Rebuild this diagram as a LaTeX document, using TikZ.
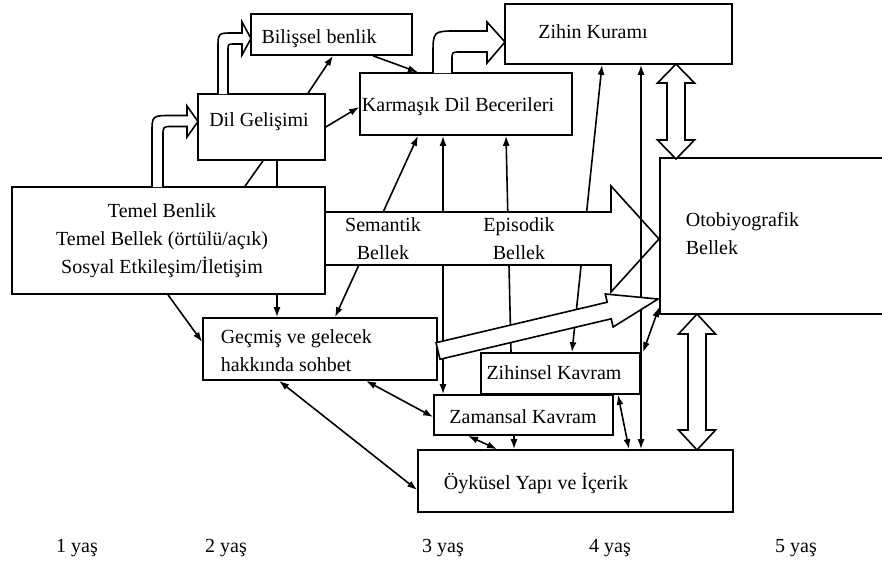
\documentclass[tikz,border=0pt]{standalone}
\usepackage{fontspec}
\setmainfont{Liberation Serif}
\usetikzlibrary{arrows.meta}

\begin{document}
\begin{tikzpicture}[x=1pt, y=-1pt, line width=1.6pt,
    box/.style={draw, rectangle, inner sep=0pt},
    lbl/.style={font=\fontsize{20}{28}\selectfont, inner sep=0pt},
    conn/.style={-{Latex[length=10pt,width=7pt]}},
    dconn/.style={{Latex[length=10pt,width=7pt]}-{Latex[length=10pt,width=7pt]}},
    hollow/.style={draw, fill=white, line join=miter}]
    \useasboundingbox (0,0) rectangle (882,562);

    % boxes
    \node[box, minimum width=161pt, minimum height=41pt] (bil) at (331.5,34.5) {};
    \node[box, minimum width=127pt, minimum height=66pt] (dil) at (261.5,127) {};
    \node[box, minimum width=212pt, minimum height=62pt] (kar) at (466,104) {};
    \node[box, minimum width=227pt, minimum height=60pt] (zih) at (618.5,34) {};
    \node[box, minimum width=240pt, minimum height=156pt] (oto) at (780,236) {};
    \node[box, minimum width=313pt, minimum height=107pt] (tem) at (168.5,240.5) {};
    \node[box, minimum width=234pt, minimum height=62pt] (gec) at (320,349) {};
    \node[box, minimum width=159pt, minimum height=41pt] (zsl) at (560.5,373.5) {};
    \node[box, minimum width=179pt, minimum height=40pt] (zam) at (523.5,415) {};
    \node[box, minimum width=315pt, minimum height=62pt] (oyk) at (575.5,481) {};

    % thin connectors
    \draw[conn] (308,0 |- dil.north) -- (333,0 |- bil.south);
    \draw[conn] (373,0 |- bil.south) -- (418,0 |- kar.north);
    \draw[conn] (dil.east |- 0,127) -- (kar.west |- 0,107);
    \draw (245,0 |- tem.north) -- (263,0 |- dil.south);
    \draw (277,0 |- tem.north) -- (277,0 |- dil.south);
    \draw[conn] (168,0 |- tem.south) -- (gec.west |- 0,342);
    \draw[conn] (277,0 |- tem.south) -- (277,0 |- gec.north);
    \draw[dconn] (335,0 |- gec.north) -- (418,0 |- kar.south);
    \draw[dconn] (443,0 |- zam.north) -- (443,0 |- kar.south);
    \draw[conn] (511,0 |- zsl.north) -- (506,0 |- kar.south);
    \draw[dconn] (572,0 |- zsl.north) -- (602,0 |- zih.south);
    \draw[dconn] (643,0 |- zsl.north) -- (oto.west |- 0,307);
    \draw[dconn] (618,0 |- zsl.south) -- (629,0 |- oyk.north);
    \draw[conn] (514,0 |- zam.south) -- (514,0 |- oyk.north);
    \draw[dconn] (468,0 |- zam.south) -- (497,0 |- oyk.north);
    \draw[dconn] (366,0 |- gec.south) -- (zam.west |- 0,417);
    \draw[dconn] (279,0 |- gec.south) -- (oyk.west |- 0,490);

    % wide arrows
    \draw[hollow] (325,212) -- (611,212) -- (611,186) -- (659,239) -- (611,292) -- (611,265) -- (325,265) -- cycle;
    \draw[dconn] (641,0 |- oyk.north) -- (641,0 |- zih.south);
    \draw[hollow] (436,342.7) -- (607.2,302.2) -- (605.3,294) -- (658,299) -- (613.1,327) -- (611.2,318.8) -- (440,359.3) -- cycle;

    % bent arrows
    \draw[hollow] (152,187) -- (152,133) .. controls (152,115.5) .. (172,115.5) -- (187,115.5) -- (187,106) -- (198,121.5)
        -- (187,137) -- (187,126.5) -- (172,126.5) .. controls (163,126.5) .. (163,136) -- (163,187);
    \draw[hollow] (218,94) -- (218,48) .. controls (218,33) .. (233,33) -- (242,33) -- (242,22) -- (251,38.5)
        -- (242,55) -- (242,44) -- (234,44) .. controls (228,44) .. (228,50) -- (228,94);
    \draw[hollow] (433,73) -- (433,55) .. controls (433,31) .. (457,31) -- (487,31) -- (487,22) -- (505,42)
        -- (487,63) -- (487,52) -- (460,52) .. controls (452,52) .. (452,60) -- (452,73);

    % double arrows
    \draw[hollow] (676,64) -- (694.5,83) -- (685,83) -- (685,140) -- (694.5,140) -- (676,159)
        -- (657.5,140) -- (667,140) -- (667,83) -- (657.5,83) -- cycle;
    \draw[hollow] (697,314) -- (715.5,334) -- (706,334) -- (706,430) -- (715.5,430) -- (697,450)
        -- (678.5,430) -- (688,430) -- (688,334) -- (678.5,334) -- cycle;

    % texts
    \node[lbl] (bil-t) at (319,39) {Bilişsel benlik};
    \node[lbl] (dil-t) at (259,122) {Dil Gelişimi};
    \node[lbl] (kar-t) at (458,107) {Karmaşık Dil Becerileri};
    \node[lbl] (zih-t) at (593,32) {Zihin Kuramı};
    \node[lbl, align=left, anchor=west] (oto-t) at (685,234) {Otobiyografik\\Bellek};
    \node[lbl, align=center] (tem-t) at (162,241) {Temel Benlik\\Temel Bellek (örtülü/açık)\\Sosyal Etkileşim/İletişim};
    \node[lbl, align=left, anchor=west] (gec-t) at (220,351) {Geçmiş ve gelecek\\hakkında sohbet};
    \node[lbl] (zsl-t) at (554,373) {Zihinsel Kavram};
    \node[lbl] (zam-t) at (523,417) {Zamansal Kavram};
    \node[lbl] (oyk-t) at (536,483) {Öyküsel Yapı ve İçerik};
    \node[lbl, align=center] (sem-t) at (383,239) {Semantik\\Bellek};
    \node[lbl, align=center] (epi-t) at (519,239) {Episodik\\Bellek};

    % ages
    \foreach \x/\n in {77/1, 226/2, 443/3, 610/4, 796/5}
        \node[lbl] (age\n) at (\x,548) {\n\ yaş};
\end{tikzpicture}
\end{document}
